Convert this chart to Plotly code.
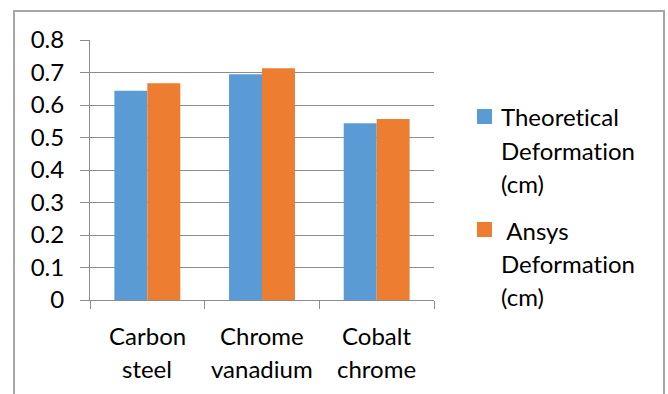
import plotly.graph_objects as go

# Material categories and deformation values in cm
categories = ["Carbon steel", "Chrome vanadium", "Cobalt chrome"]
theoretical = [0.644, 0.695, 0.544]
ansys = [0.667, 0.713, 0.557]
series_names = ["Theoretical Deformation (cm)", " Ansys Deformation (cm)"]
y_ticks = [0, 0.1, 0.2, 0.3, 0.4, 0.5, 0.6, 0.7, 0.8]
y_tick_text = ["0", "0.1", "0.2", "0.3", "0.4", "0.5", "0.6", "0.7", "0.8"]

BLUE = "#5B9BD5"
ORANGE = "#ED7D31"
GRID = "#8c8c8c"
FONT = "Lato"
FS = 24

fig = go.Figure()
fig.add_trace(go.Bar(x=categories, y=theoretical, name=series_names[0],
                     marker=dict(color=BLUE, line=dict(width=0))))
fig.add_trace(go.Bar(x=categories, y=ansys, name=series_names[1],
                     marker=dict(color=ORANGE, line=dict(width=0))))

W, H = 668, 394
L, R, T, B = 90, 234, 40, 94
pw, ph = W - L - R, H - T - B


def px_x(x):
    return (x - L) / pw


def px_y(y):
    return (H - B - y) / ph


def no_lig(s):
    # keep "t"+"i" from fusing into a ligature glyph
    return s.replace("ti", "t\u200ci")


annotations = []
shapes = [
    dict(type="rect", xref="paper", yref="paper",
         x0=px_x(14), x1=px_x(664), y0=px_y(420), y1=px_y(11),
         line=dict(color="#a6a6a6", width=2), fillcolor="rgba(0,0,0,0)",
         layer="below"),
]

# Two-line category labels under the axis
line_gap = 33
for cat in categories:
    parts = cat.split(" ")
    for k, part in enumerate(parts):
        annotations.append(dict(
            x=cat, xref="x", y=px_y(335 + k * line_gap), yref="paper",
            text=part, showarrow=False, xanchor="center", yanchor="middle",
            font=dict(family=FONT, size=FS, color="#000000"),
        ))

# Legend: colour square beside the first line of each wrapped name
legend_tops = [117, 230]
for name, color, top in zip(series_names, [BLUE, ORANGE], legend_tops):
    words = name.split(" ")
    lead = " " if name.startswith(" ") else ""
    words = [w for w in words if w]
    lines = [lead + words[0], words[1], words[2]]
    for k, ln in enumerate(lines):
        annotations.append(dict(
            x=px_x(499), xref="paper", y=px_y(top + k * line_gap), yref="paper",
            text=no_lig(ln).replace(" ", "&nbsp;"), showarrow=False,
            xanchor="left", yanchor="middle",
            font=dict(family=FONT, size=FS, color="#000000"),
        ))
    shapes.append(dict(
        type="rect", xref="paper", yref="paper",
        x0=px_x(477), x1=px_x(492), y0=px_y(top - 8), y1=px_y(top + 7),
        line=dict(width=0), fillcolor=color,
    ))

fig.update_layout(
    width=W, height=H,
    margin=dict(l=L, r=R, t=T, b=B, autoexpand=False),
    paper_bgcolor="white", plot_bgcolor="white",
    barmode="group", bargap=0.425, bargroupgap=0,
    font=dict(family=FONT, size=FS, color="#000000"),
    showlegend=False,
    xaxis=dict(
        showline=True, linecolor=GRID, linewidth=1,
        ticks="outside", tickson="boundaries", ticklen=8, tickcolor=GRID,
        showticklabels=False, showgrid=False, fixedrange=True,
    ),
    yaxis=dict(
        range=[0, 0.8], tickvals=y_ticks, ticktext=y_tick_text,
        showline=True, linecolor=GRID, linewidth=1,
        ticks="outside", ticklen=9, tickcolor=GRID,
        showgrid=True, gridcolor=GRID, gridwidth=1,
        zeroline=False, ticklabelstandoff=11,
        tickfont=dict(family=FONT, size=FS),
        fixedrange=True,
    ),
    annotations=annotations,
    shapes=shapes,
)

fig.write_html("out.html")
